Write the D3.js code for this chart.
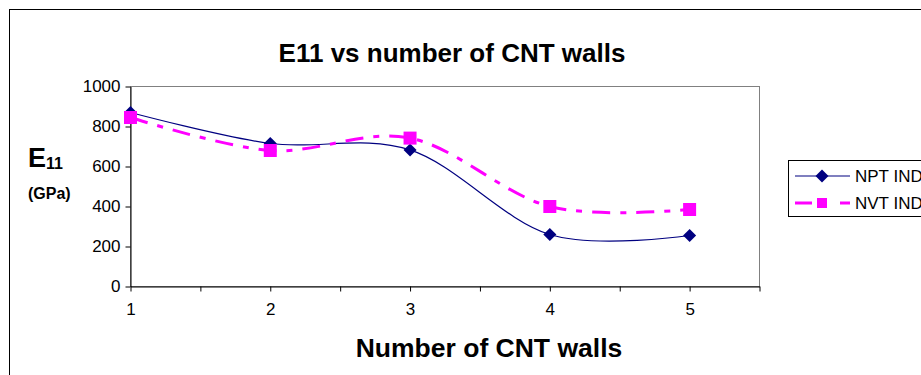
<!DOCTYPE html>
<html>
<head>
<meta charset="utf-8">
<script src="https://cdn.jsdelivr.net/npm/d3@7"></script>
<style>
  body { margin: 0; background: #fff; overflow: hidden; }
  text { font-family: "Liberation Sans", Arial, sans-serif; }
</style>
</head>
<body>
<svg id="chart" width="921" height="375"></svg>
<script>
// data
var walls = [1, 2, 3, 4, 5];
var nptInd = [870, 715, 683, 260, 255];
var nvtInd = [845, 680, 742, 400, 385];
var seriesNames = ["NPT IND", "NVT IND"];
var yTicks = [0, 200, 400, 600, 800, 1000];
var xTicks = [1, 1.5, 2, 2.5, 3, 3.5, 4, 4.5, 5, 5.5];

var svg = d3.select("#chart");

// outer chart border (runs off the right and bottom edges)
svg.append("rect")
    .attr("x", 9.5).attr("y", 9.5)
    .attr("width", 1000).attr("height", 500)
    .style("fill", "#fff").style("stroke", "#000").style("stroke-width", 1);

var pLeft = 130.5, pRight = 759.5, pTop = 86.5, pBottom = 286.5;

var x = d3.scaleLinear().domain([1, 5.5]).range([pLeft, pRight]);
var y = d3.scaleLinear().domain([0, 1000]).range([pBottom, pTop]);

// plot area border
svg.append("rect")
    .attr("x", pLeft).attr("y", pTop)
    .attr("width", pRight - pLeft).attr("height", pBottom - pTop)
    .style("fill", "#fff").style("stroke", "#808080").style("stroke-width", 1);

var yAxis = svg.append("g")
    .attr("transform", "translate(" + pLeft + ",0)")
    .call(d3.axisLeft(y).tickValues(yTicks).tickSize(5).tickSizeOuter(0).tickPadding(5)
        .tickFormat(d3.format("d")));
var xAxis = svg.append("g")
    .attr("transform", "translate(0," + pBottom + ")")
    .call(d3.axisBottom(x).tickValues(xTicks).tickSize(5).tickSizeOuter(0).tickPadding(11)
        .tickFormat(function(d) { return d % 1 === 0 && d <= 5 ? d : ""; }));

[yAxis, xAxis].forEach(function(a) {
    a.selectAll("path").style("stroke", "#000");
    a.selectAll("line").style("stroke", "#000");
    a.selectAll("text").style("font-size", "17px").style("fill", "#000")
        .style("font-family", '"Liberation Sans", Arial, sans-serif');
});

var line = d3.line()
    .x(function(d, i) { return x(walls[i]); })
    .y(function(d) { return y(d); })
    .curve(d3.curveCardinal);

svg.append("path").datum(nptInd)
    .attr("d", line)
    .style("fill", "none").style("stroke", "#000080").style("stroke-width", 1.2);

svg.append("path").datum(nvtInd)
    .attr("d", line)
    .style("fill", "none").style("stroke", "#ff00ff").style("stroke-width", 3)
    .style("stroke-dasharray", "18,10,6,10");

var diamond = d3.symbol().type(d3.symbolSquare).size(85);

svg.selectAll(".npt").data(nptInd).enter().append("path")
    .attr("class", "npt")
    .attr("d", diamond)
    .attr("transform", function(d, i) { return "translate(" + x(walls[i]) + "," + y(d) + ") rotate(45)"; })
    .style("fill", "#000080");

svg.selectAll(".nvt").data(nvtInd).enter().append("rect")
    .attr("class", "nvt")
    .attr("x", function(d, i) { return x(walls[i]) - 6.5; })
    .attr("y", function(d) { return y(d) - 6.5; })
    .attr("width", 13).attr("height", 13)
    .style("fill", "#ff00ff");

// titles
svg.append("text")
    .attr("x", 452).attr("y", 62)
    .attr("text-anchor", "middle")
    .style("font-size", "26px").style("font-weight", "bold")
    .text("E11 vs number of CNT walls");

svg.append("text")
    .attr("x", 489).attr("y", 357)
    .attr("text-anchor", "middle")
    .style("font-size", "26.5px").style("font-weight", "bold")
    .text("Number of CNT walls");

var yl = svg.append("text")
    .attr("x", 28).attr("y", 167)
    .style("font-size", "27px").style("font-weight", "bold");
yl.append("tspan").text("E");
yl.append("tspan").attr("dy", 2).style("font-size", "16px").text("11");

svg.append("text")
    .attr("x", 28).attr("y", 199)
    .style("font-size", "16px").style("font-weight", "bold")
    .text("(GPa)");

// legend
var legend = svg.append("g");
legend.append("rect")
    .attr("x", 788.5).attr("y", 160.5)
    .attr("width", 300).attr("height", 56)
    .style("fill", "#fff").style("stroke", "#000").style("stroke-width", 1);

var rows = [176, 203];
legend.append("line")
    .attr("x1", 795).attr("x2", 850).attr("y1", rows[0]).attr("y2", rows[0])
    .style("stroke", "#000080").style("stroke-width", 1.2);
legend.append("path")
    .attr("d", diamond)
    .attr("transform", "translate(822," + rows[0] + ") rotate(45)")
    .style("fill", "#000080");
legend.append("line")
    .attr("x1", 795).attr("x2", 850).attr("y1", rows[1]).attr("y2", rows[1])
    .style("stroke", "#ff00ff").style("stroke-width", 3)
    .style("stroke-dasharray", "17,28,10");
legend.append("rect")
    .attr("x", 817).attr("y", rows[1] - 5)
    .attr("width", 10).attr("height", 10)
    .style("fill", "#ff00ff");

seriesNames.forEach(function(name, i) {
    legend.append("text")
        .attr("x", 855).attr("y", rows[i] + 6)
        .style("font-size", "17px")
        .text(name);
});
</script>
</body>
</html>
